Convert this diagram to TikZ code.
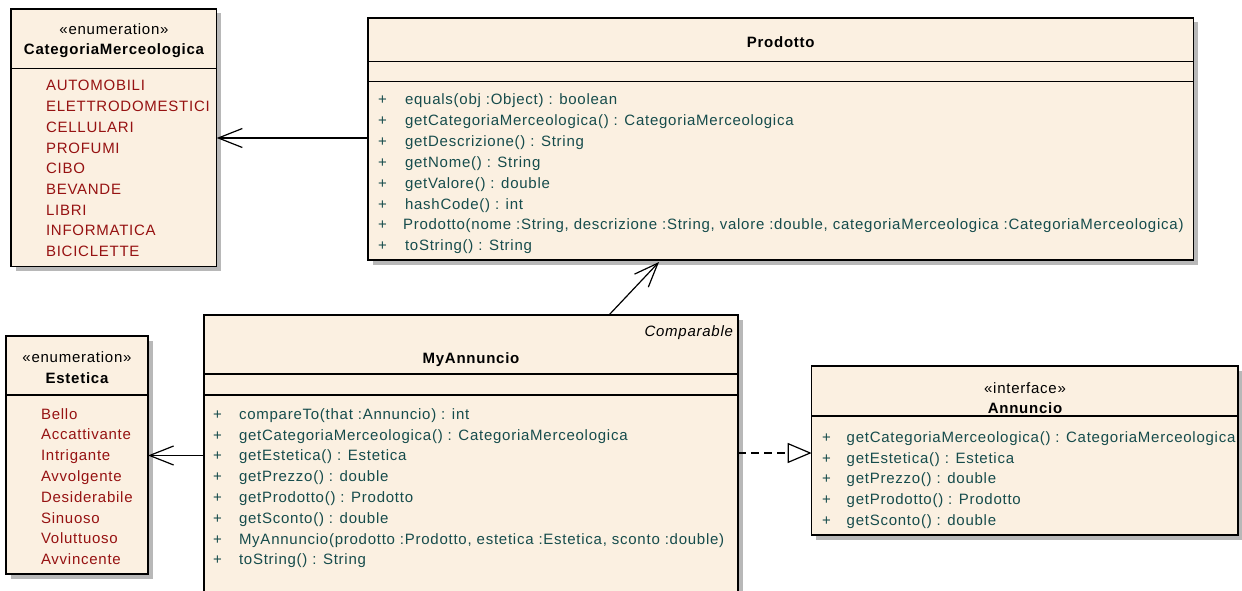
\documentclass[tikz,border=0pt]{standalone}
\usepackage{fontspec}
\setmainfont{Liberation Sans}[LetterSpace=5]
\usetikzlibrary{arrows.meta,shadows,calc}
\definecolor{umlfill}{RGB}{251,240,225}
\definecolor{opcol}{RGB}{22,76,76}
\definecolor{litcol}{RGB}{150,18,18}
\begin{document}
\begin{tikzpicture}[x=1pt,y=-1pt,
  font=\fontsize{15}{18}\selectfont,
  box/.style={draw=black, line width=1.3pt, fill=umlfill, inner sep=0pt, outer sep=0pt, anchor=north west,
    drop shadow={shadow xshift=4.5pt, shadow yshift=-4.5pt, fill=black!28, opacity=1}},
  divider/.style={line width=1.3pt},
  txt/.style={anchor=base west, inner sep=0pt, outer sep=0pt},
  ctxt/.style={anchor=base, inner sep=0pt, outer sep=0pt},
  ttl/.style={ctxt, font=\fontsize{15}{18}\selectfont\bfseries},
  op/.style={txt, text=opcol},
  lit/.style={txt, text=litcol},
  assoc/.style={line width=1.2pt, -{Straight Barb[length=24pt, width=19pt, line width=1.2pt]}},
  realize/.style={line width=1.2pt, dash pattern=on 8pt off 5pt, -{Triangle[open, length=24pt, width=20pt, line width=1.2pt, fill=white]}}
]
\useasboundingbox[fill=white] (0,0) rectangle (1242,591);

% ---------------- CategoriaMerceologica
\node[box, minimum width=205.7pt, minimum height=257.7pt] (cat) at (11,9) {};
\draw[divider] (cat.west |- 0,68.3) -- (cat.east |- 0,68.3);
\node[ctxt] (catst) at (114,34.3) {«enumeration»};
\node[ttl] (catnm) at (114,55) {CategoriaMerceologica};
\foreach \t [count=\i from 0] in {AUTOMOBILI,ELETTRODOMESTICI,CELLULARI,PROFUMI,CIBO,BEVANDE,LIBRI,INFORMATICA,BICICLETTE}
  \node[lit, name=catl\i] at (46,91+20.7*\i) {\t};

% ---------------- Prodotto
\node[box, minimum width=825.5pt, minimum height=242pt] (prod) at (368,18) {};
\draw[divider] (prod.west |- 0,61.7) -- (prod.east |- 0,61.7);
\draw[divider] (prod.west |- 0,81.7) -- (prod.east |- 0,81.7);
\node[ttl] (prodnm) at (780.7,47.3) {Prodotto};
\foreach \t [count=\i from 0] in {{equals(obj :Object) : boolean},
  {getCategoriaMerceologica() : CategoriaMerceologica},
  {getDescrizione() : String},
  {getNome() : String},
  {getValore() : double},
  {hashCode() : int}}
  {\node[op, name=prodp\i] at (378,105+20.8*\i) {+};
   \node[op, name=prodm\i] at (405,105+20.8*\i) {\t};}
\node[op] (prodp6) at (378,229.8) {+};
\node[op] (prodm6) at (403,229.8) {Prodotto(nome :String, descrizione :String, valore :double, categoriaMerceologica :CategoriaMerceologica)};
\node[op] (prodp7) at (378,250.6) {+};
\node[op] (prodm7) at (405,250.6) {toString() : String};

% ---------------- Estetica
\node[box, minimum width=142pt, minimum height=238pt] (est) at (6,336) {};
\draw[divider] (est.west |- 0,395) -- (est.east |- 0,395);
\node[ctxt] (estst) at (77,362.7) {«enumeration»};
\node[ttl] (estnm) at (77,383.3) {Estetica};
\foreach \t [count=\i from 0] in {Bello,Accattivante,Intrigante,Avvolgente,Desiderabile,Sinuoso,Voluttuoso,Avvincente}
  \node[lit, name=estl\i] at (41,419+20.8*\i) {\t};

% ---------------- MyAnnuncio
\node[box, minimum width=534pt, minimum height=300pt] (myann) at (204,315) {};
\draw[divider] (myann.west |- 0,374) -- (myann.east |- 0,374);
\draw[divider] (myann.west |- 0,395) -- (myann.east |- 0,395);
\node[ctxt, anchor=base east, font=\fontsize{15}{18}\selectfont\itshape] (mycmp) at (733,336) {Comparable};
\node[ttl] (mynm) at (471,363.3) {MyAnnuncio};
\foreach \t [count=\i from 0] in {{compareTo(that :Annuncio) : int},
  {getCategoriaMerceologica() : CategoriaMerceologica},
  {getEstetica() : Estetica},
  {getPrezzo() : double},
  {getProdotto() : Prodotto},
  {getSconto() : double},
  {MyAnnuncio(prodotto :Prodotto, estetica :Estetica, sconto :double)},
  {toString() : String}}
  {\node[op, name=myp\i] at (213,419.3+20.8*\i) {+};
   \node[op, name=mym\i] at (239,419.3+20.8*\i) {\t};}

% ---------------- Annuncio
\node[box, minimum width=426.3pt, minimum height=169pt] (ann) at (811.7,366) {};
\draw[divider] (ann.west |- 0,416) -- (ann.east |- 0,416);
\node[ctxt] (annst) at (1025,393.3) {«interface»};
\node[ttl] (annnm) at (1025,413.3) {Annuncio};
\foreach \t [count=\i from 0] in {{getCategoriaMerceologica() : CategoriaMerceologica},
  {getEstetica() : Estetica},
  {getPrezzo() : double},
  {getProdotto() : Prodotto},
  {getSconto() : double}}
  {\node[op, name=annp\i] at (822,442.7+20.6*\i) {+};
   \node[op, name=annm\i] at (846.7,442.7+20.6*\i) {\t};}

% ---------------- Connectors
\draw[assoc] (prod.west |- 0,138) -- (cat.east |- 0,138);
\draw[assoc] ($(myann.north west)+(405,0)$) -- ($(prod.south west)+(291,2)$);
\draw[assoc] (myann.west |- 0,455.5) -- (est.east |- 0,455.5);
\draw[realize] (myann.east |- 0,453) -- (ann.west |- 0,453);
\end{tikzpicture}
\end{document}
